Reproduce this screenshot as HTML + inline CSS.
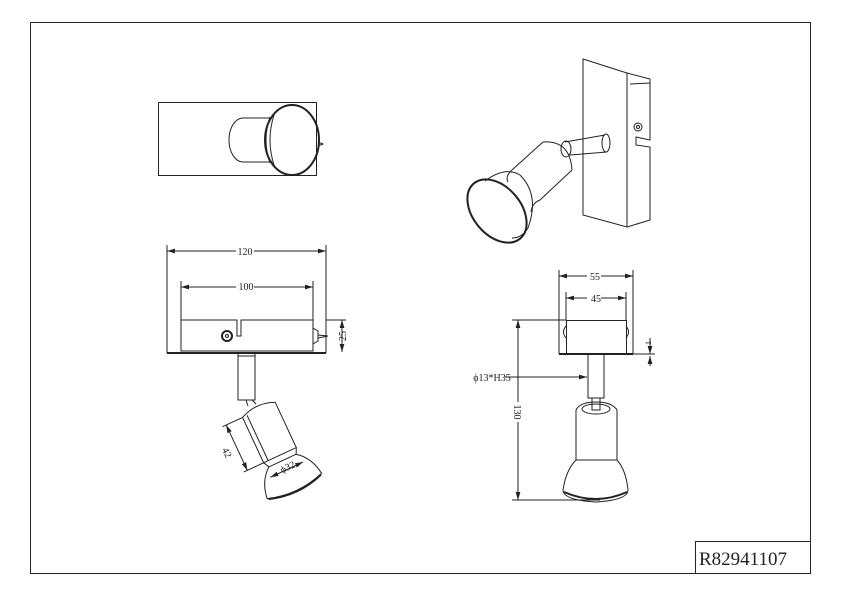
<!DOCTYPE html>
<html><head><meta charset="utf-8"><style>
html,body{margin:0;padding:0;background:#fff;}
svg{display:block;}
text{font-family:"Liberation Serif",serif;fill:#222;}
</style></head><body>
<svg width="842" height="595" viewBox="0 0 842 595" xmlns="http://www.w3.org/2000/svg">
<defs>
<marker id="a" viewBox="0 0 10 6" refX="10" refY="3" markerWidth="8" markerHeight="5" orient="auto-start-reverse"><path d="M0,0 L10,3 L0,6z" fill="#222"/></marker>
</defs>
<g fill="none" stroke="#222" stroke-width="1">
<rect x="30.5" y="22.5" width="780" height="551"/>
<rect x="695.5" y="541.5" width="115" height="32"/>

<!-- top-left view -->
<rect x="158.5" y="102.5" width="158" height="73"/>
<path d="M270,118 L243,118 A14,22 0 0 0 243,162 L270,162"/>
<path d="M270,117 Q262,140 270,163 M274,115 Q266,140 274,165"/>
<ellipse cx="292" cy="140" rx="27" ry="35" stroke-width="2"/>
<path d="M318,142 l5,2 l-5,2"/>

<!-- top-right perspective -->
<path d="M583,59 L627,73 L627,227 L583,215 Z"/>
<path d="M627,73 L650,79 L650,140 L636,137 L636,145 L650,147 L650,220 L627,227"/>
<path d="M630,84 L650,83"/>
<circle cx="638" cy="127" r="4"/><circle cx="638" cy="127" r="1.5"/>
<path d="M565,142 L605,135 M570,155 L607,152"/>
<ellipse cx="606" cy="143" rx="4" ry="9"/>
<ellipse cx="566" cy="149" rx="5" ry="8"/>
<path d="M543,142 L512,170 M572,170 L540,200 M543,142 Q570,140 572,170"/>
<path d="M512,170 Q505,176 508,182 M540,200 Q532,203 531,212"/>
<path d="M485,181 Q505,166 520,175 Q540,195 528,228 Q522,238 512,238"/>
<ellipse cx="497" cy="211" rx="24" ry="36" transform="rotate(-40 497 211)" stroke-width="2"/>

<!-- bottom-left front view -->
<line x1="167" y1="251" x2="326" y2="251" marker-start="url(#a)" marker-end="url(#a)"/>
<line x1="167" y1="245" x2="167" y2="353"/><line x1="326" y1="245" x2="326" y2="353"/>
<line x1="181" y1="287" x2="313" y2="287" marker-start="url(#a)" marker-end="url(#a)"/>
<line x1="181" y1="281" x2="181" y2="320"/><line x1="313" y1="281" x2="313" y2="320"/>
<path d="M181,320 L237,320 L237,336 L241,336 L241,320 L313,320 L313,351 L181,351 Z"/>
<line x1="167" y1="353" x2="326" y2="353" stroke-width="2"/>
<circle cx="227" cy="336" r="5" stroke-width="2"/><circle cx="227" cy="336" r="1.5"/>
<path d="M313,328 l5,3 l0,10 l-5,3 M318,335 l10,1 l-10,2"/>
<line x1="326" y1="320" x2="346" y2="320"/>
<line x1="342" y1="320" x2="342" y2="352" marker-start="url(#a)" marker-end="url(#a)"/>
<path d="M238,353 L238,400 L255,400 L255,353 M238,356 L255,356"/>
<path d="M246,400 L248,406 M252,400 L256,404"/>
<g transform="translate(258,408) rotate(-25)">
<path d="M-18,2 Q0,-6 18,2 L18,52 L-18,52 Z"/>
<path d="M-13,2 L-13,52"/>
<path d="M-18,52 L-15,58 L15,58 L18,52"/>
<path d="M-15,58 Q-28,68 -30,86 Q0,96 30,86 Q28,68 15,58"/>
<path d="M-29,87 Q0,97 29,87" stroke-width="2"/>
<line x1="-18" y1="2" x2="-40" y2="2"/><line x1="-18" y1="52" x2="-40" y2="52"/>
<line x1="-36" y1="2" x2="-36" y2="52" marker-start="url(#a)" marker-end="url(#a)"/>
<line x1="-18" y1="68" x2="18" y2="68" marker-start="url(#a)" marker-end="url(#a)"/>
</g>

<!-- bottom-right side view -->
<line x1="559" y1="276" x2="633" y2="276" marker-start="url(#a)" marker-end="url(#a)"/>
<line x1="559" y1="270" x2="559" y2="354"/><line x1="633" y1="270" x2="633" y2="354"/>
<line x1="566" y1="298" x2="626" y2="298" marker-start="url(#a)" marker-end="url(#a)"/>
<line x1="566" y1="292" x2="566" y2="320"/><line x1="626" y1="292" x2="626" y2="320"/>
<rect x="566.5" y="320.5" width="60" height="33"/>
<path d="M566,326 q-5,6 0,12 M626,326 q5,6 0,12"/>
<line x1="559" y1="354" x2="633" y2="354" stroke-width="2"/>
<line x1="633" y1="354" x2="655" y2="354"/>
<line x1="650" y1="338" x2="650" y2="354" marker-end="url(#a)"/>
<line x1="650" y1="366" x2="650" y2="356" marker-end="url(#a)"/>
<line x1="512" y1="320" x2="566" y2="320"/>
<line x1="512" y1="500" x2="600" y2="500"/>
<line x1="518" y1="320" x2="518" y2="500" marker-start="url(#a)" marker-end="url(#a)"/>
<path d="M588,354 L588,398 L604,398 L604,354"/>
<line x1="505" y1="377" x2="587" y2="377" marker-end="url(#a)"/>
<path d="M592,398 L592,410 L600,410 L600,398"/>
<path d="M576,460 L576,410 Q580,402 596,402 Q612,402 617,410 L617,460"/>
<ellipse cx="596" cy="409" rx="14" ry="5"/>
<path d="M576,460 Q566,470 563,490 Q563,500 596,502 Q628,500 628,490 Q626,470 617,460 Z"/>
<path d="M564,492 Q596,506 627,492" stroke-width="2"/>
</g>
<g font-size="10" text-anchor="middle">
<rect x="236" y="245" width="18" height="11" fill="#fff"/><text x="245" y="255">120</text>
<rect x="236" y="281" width="18" height="11" fill="#fff"/><text x="246" y="290">100</text>
<text transform="translate(346,336) rotate(-90)">25</text>
<text transform="translate(224,454) rotate(65)">42</text>
<text transform="translate(289,470) rotate(-25)">ϕ32</text>
<rect x="587" y="270" width="14" height="11" fill="#fff"/><text x="595" y="280">55</text>
<rect x="587" y="292" width="14" height="11" fill="#fff"/><text x="596" y="302">45</text>
<text transform="translate(651,343) rotate(-90)" font-size="8">1</text>
<text x="492" y="381">ϕ13*H35</text>
<rect x="512" y="402" width="12" height="20" fill="#fff"/>
<text transform="translate(514,412) rotate(90)">130</text>
</g>
<text x="699" y="565" font-size="19">R82941107</text>
</svg>
</body></html>
